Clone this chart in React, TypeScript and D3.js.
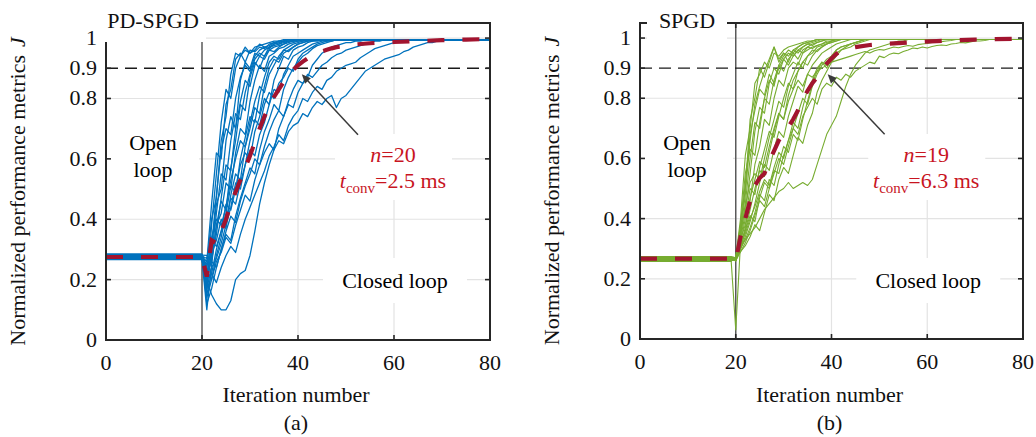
import React from "react";
import * as d3 from "d3";

// ---------------- data ----------------
const xTickValues = [0, 20, 40, 60, 80];
const yTickValues = [0, 0.2, 0.4, 0.6, 0.8, 0.9, 1];
const yTickLabels = ["0", "0.2", "0.4", "0.6", "0.8", "0.9", "1"];
const yGridValues = [0.2, 0.4, 0.6, 0.8, 1];
const xGridValues = [40, 60];
const switchIteration = 20;
const threshold = 0.9;
const lastIteration = 80;

// PD-SPGD: open-loop level of each run (iterations 0..20), closed-loop values from iteration 21
const pdOpen = [0.276, 0.272, 0.279, 0.268, 0.281, 0.274, 0.27, 0.283, 0.277, 0.273, 0.279, 0.266, 0.285, 0.275, 0.271, 0.28, 0.274, 0.278, 0.269, 0.282];
const pd01 = [0.26, 0.45, 0.62, 0.6, 0.78, 0.83, 0.93, 0.95, 0.92, 0.96, 0.955, 0.97, 0.965, 0.98, 0.985, 0.98, 0.99, 0.99, 0.993, 0.995];
const pd02 = [0.18, 0.38, 0.55, 0.72, 0.83, 0.8, 0.9, 0.94, 0.96, 0.95, 0.97, 0.975, 0.98, 0.985, 0.99, 0.99, 0.995];
const pd03 = [0.22, 0.31, 0.45, 0.5, 0.66, 0.74, 0.7, 0.86, 0.92, 0.9, 0.95, 0.94, 0.96, 0.97, 0.975, 0.98, 0.985, 0.99, 0.99, 0.995];
const pd04 = [0.1, 0.25, 0.38, 0.46, 0.43, 0.57, 0.66, 0.78, 0.76, 0.87, 0.92, 0.9, 0.94, 0.96, 0.955, 0.97, 0.98, 0.985, 0.99, 0.99, 0.995];
const pd05 = [0.28, 0.26, 0.38, 0.42, 0.52, 0.5, 0.62, 0.7, 0.68, 0.79, 0.86, 0.91, 0.89, 0.94, 0.95, 0.965, 0.97, 0.98, 0.985, 0.99, 0.99, 0.995];
const pd06 = [0.2, 0.29, 0.33, 0.4, 0.37, 0.48, 0.55, 0.53, 0.64, 0.7, 0.77, 0.75, 0.84, 0.9, 0.93, 0.92, 0.95, 0.96, 0.97, 0.98, 0.985, 0.99, 0.99, 0.995];
const pd07 = [0.15, 0.22, 0.3, 0.36, 0.45, 0.43, 0.5, 0.58, 0.62, 0.6, 0.69, 0.74, 0.8, 0.78, 0.86, 0.9, 0.94, 0.93, 0.96, 0.97, 0.975, 0.985, 0.99, 0.99, 0.995];
const pd08 = [0.24, 0.33, 0.31, 0.36, 0.4, 0.47, 0.45, 0.52, 0.58, 0.63, 0.61, 0.68, 0.72, 0.78, 0.83, 0.82, 0.88, 0.91, 0.94, 0.95, 0.96, 0.97, 0.98, 0.985, 0.99, 0.99, 0.995];
const pd09 = [0.12, 0.17, 0.24, 0.3, 0.35, 0.33, 0.41, 0.47, 0.52, 0.57, 0.55, 0.63, 0.69, 0.73, 0.78, 0.76, 0.83, 0.87, 0.9, 0.92, 0.94, 0.95, 0.965, 0.975, 0.98, 0.985, 0.99, 0.995];
const pd10 = [0.25, 0.4, 0.47, 0.66, 0.74, 0.88, 0.95, 0.94, 0.97, 0.95, 0.96, 0.98, 0.97, 0.975, 0.985, 0.99, 0.99, 0.995];
const pd11 = [0.21, 0.27, 0.35, 0.47, 0.58, 0.56, 0.7, 0.79, 0.86, 0.84, 0.91, 0.94, 0.93, 0.96, 0.97, 0.975, 0.98, 0.99, 0.99, 0.995];
const pd12 = [0.17, 0.24, 0.27, 0.32, 0.38, 0.44, 0.52, 0.5, 0.58, 0.66, 0.73, 0.71, 0.78, 0.82, 0.8, 0.85, 0.87, 0.9, 0.89, 0.93, 0.95, 0.96, 0.97, 0.98, 0.985, 0.99, 0.99, 0.995];
const pd13 = [0.23, 0.2, 0.26, 0.29, 0.34, 0.32, 0.38, 0.43, 0.48, 0.46, 0.53, 0.58, 0.62, 0.65, 0.63, 0.7, 0.74, 0.78, 0.77, 0.82, 0.85, 0.87, 0.91, 0.93, 0.95, 0.96, 0.97, 0.975, 0.98, 0.985, 0.985, 0.99, 0.99, 0.995];
const pd14 = [0.2, 0.15, 0.12, 0.1, 0.1, 0.13, 0.2, 0.22, 0.23, 0.28, 0.36, 0.45, 0.52, 0.58, 0.63, 0.66, 0.65, 0.69, 0.71, 0.72, 0.75, 0.74, 0.77, 0.79, 0.78, 0.8, 0.81, 0.77, 0.8, 0.81, 0.83, 0.85, 0.87, 0.89, 0.9, 0.91, 0.92, 0.93, 0.935, 0.94, 0.945, 0.955, 0.96, 0.97, 0.975, 0.98, 0.985, 0.985, 0.99, 0.99, 0.995];
const pd15 = [0.26, 0.22, 0.19, 0.24, 0.28, 0.31, 0.29, 0.35, 0.4, 0.44, 0.48, 0.52, 0.56, 0.61, 0.64, 0.68, 0.66, 0.71, 0.74, 0.76, 0.8, 0.79, 0.82, 0.84, 0.83, 0.86, 0.87, 0.89, 0.9, 0.91, 0.915, 0.92, 0.935, 0.945, 0.955, 0.965, 0.97, 0.975, 0.98, 0.985, 0.99, 0.99, 0.995];
const pd16 = [0.19, 0.28, 0.42, 0.55, 0.53, 0.66, 0.75, 0.73, 0.82, 0.88, 0.93, 0.95, 0.94, 0.97, 0.98, 0.985, 0.99, 0.995];
const pd17 = [0.14, 0.2, 0.28, 0.34, 0.42, 0.51, 0.49, 0.6, 0.67, 0.74, 0.72, 0.81, 0.87, 0.92, 0.94, 0.93, 0.96, 0.97, 0.98, 0.985, 0.99, 0.995];
const pd18 = [0.27, 0.34, 0.4, 0.38, 0.44, 0.53, 0.6, 0.66, 0.64, 0.72, 0.79, 0.84, 0.82, 0.88, 0.91, 0.94, 0.96, 0.955, 0.97, 0.98, 0.985, 0.99, 0.995];
const pd19 = [0.22, 0.26, 0.24, 0.3, 0.36, 0.41, 0.39, 0.46, 0.51, 0.55, 0.6, 0.58, 0.64, 0.69, 0.73, 0.76, 0.74, 0.79, 0.83, 0.86, 0.85, 0.88, 0.87, 0.89, 0.91, 0.92, 0.935, 0.945, 0.95, 0.96, 0.965, 0.97, 0.975, 0.98, 0.985, 0.99, 0.99, 0.995];
const pd20 = [0.16, 0.31, 0.48, 0.63, 0.7, 0.68, 0.8, 0.87, 0.91, 0.89, 0.94, 0.96, 0.97, 0.965, 0.98, 0.99, 0.99, 0.995];
const pdRuns = [pd01, pd02, pd03, pd04, pd05, pd06, pd07, pd08, pd09, pd10, pd11, pd12, pd13, pd14, pd15, pd16, pd17, pd18, pd19, pd20];
const pdMeanIter = [0, 20, 21, 22, 23, 24, 25, 26, 27, 28, 29, 30, 31, 32, 33, 34, 35, 36, 37, 38, 39, 40, 41, 42, 43, 44, 45, 46, 47, 48, 50, 52, 55, 60, 65, 70, 75, 80];
const pdMeanVal = [0.275, 0.275, 0.21, 0.33, 0.32, 0.36, 0.4, 0.45, 0.49, 0.53, 0.57, 0.61, 0.655, 0.7, 0.74, 0.775, 0.805, 0.83, 0.855, 0.875, 0.895, 0.91, 0.922, 0.933, 0.942, 0.95, 0.956, 0.961, 0.966, 0.97, 0.975, 0.979, 0.983, 0.987, 0.99, 0.993, 0.995, 0.997];

// SPGD: open-loop level of each run (iterations 0..19), closed-loop values from iteration 20
const spOpen = [0.268, 0.262, 0.271, 0.265, 0.27, 0.258, 0.273, 0.266, 0.261, 0.269, 0.264, 0.272, 0.259, 0.267, 0.263, 0.274, 0.26, 0.27, 0.265];
const sp01 = [0.27, 0.4, 0.61, 0.7, 0.85, 0.88, 0.92, 0.9, 0.95, 0.94, 0.96, 0.97, 0.975, 0.98, 0.985, 0.99, 0.99, 0.995];
const sp02 = [0.27, 0.35, 0.48, 0.66, 0.78, 0.84, 0.89, 0.93, 0.97, 0.92, 0.95, 0.94, 0.96, 0.97, 0.98, 0.985, 0.99, 0.995];
const sp03 = [0.26, 0.33, 0.42, 0.55, 0.69, 0.77, 0.75, 0.85, 0.9, 0.88, 0.93, 0.95, 0.94, 0.96, 0.97, 0.98, 0.985, 0.99, 0.995];
const sp04 = [0.27, 0.31, 0.37, 0.46, 0.58, 0.64, 0.73, 0.71, 0.8, 0.86, 0.84, 0.9, 0.92, 0.91, 0.95, 0.96, 0.97, 0.975, 0.98, 0.985, 0.99, 0.995];
const sp05 = [0.03, 0.32, 0.36, 0.43, 0.5, 0.56, 0.54, 0.62, 0.69, 0.75, 0.73, 0.81, 0.86, 0.89, 0.92, 0.91, 0.94, 0.96, 0.97, 0.98, 0.985, 0.99, 0.995];
const sp06 = [0.27, 0.3, 0.34, 0.39, 0.45, 0.52, 0.58, 0.56, 0.63, 0.69, 0.67, 0.74, 0.79, 0.84, 0.82, 0.88, 0.91, 0.93, 0.95, 0.96, 0.97, 0.98, 0.985, 0.99, 0.995];
const sp07 = [0.26, 0.34, 0.45, 0.6, 0.72, 0.7, 0.8, 0.78, 0.86, 0.91, 0.89, 0.93, 0.95, 0.93, 0.96, 0.97, 0.965, 0.975, 0.98, 0.99, 0.99, 0.995];
const sp08 = [0.27, 0.29, 0.32, 0.36, 0.41, 0.46, 0.44, 0.5, 0.55, 0.6, 0.58, 0.64, 0.7, 0.75, 0.8, 0.78, 0.84, 0.88, 0.91, 0.93, 0.94, 0.96, 0.97, 0.975, 0.98, 0.985, 0.99, 0.995];
const sp09 = [0.27, 0.3, 0.33, 0.35, 0.37, 0.4, 0.43, 0.45, 0.47, 0.49, 0.5, 0.52, 0.5, 0.51, 0.52, 0.51, 0.53, 0.58, 0.63, 0.68, 0.71, 0.74, 0.79, 0.84, 0.88, 0.91, 0.93, 0.95, 0.96, 0.965, 0.97, 0.975, 0.98, 0.985, 0.99, 0.99, 0.995];
const sp10 = [0.27, 0.36, 0.52, 0.68, 0.76, 0.83, 0.81, 0.88, 0.85, 0.9, 0.93, 0.91, 0.94, 0.96, 0.95, 0.97, 0.98, 0.985, 0.99, 0.995];
const sp11 = [0.26, 0.31, 0.35, 0.4, 0.44, 0.49, 0.53, 0.51, 0.57, 0.62, 0.6, 0.66, 0.7, 0.68, 0.74, 0.77, 0.8, 0.78, 0.83, 0.85, 0.84, 0.87, 0.86, 0.88, 0.87, 0.89, 0.9, 0.91, 0.92, 0.915, 0.94, 0.935, 0.945, 0.95, 0.948, 0.955, 0.96, 0.967, 0.965, 0.97, 0.967, 0.972, 0.975, 0.977, 0.975, 0.98, 0.982, 0.985, 0.984, 0.987, 0.99, 0.99, 0.992, 0.995];
const sp12 = [0.27, 0.33, 0.38, 0.47, 0.53, 0.59, 0.57, 0.64, 0.7, 0.75, 0.73, 0.79, 0.83, 0.86, 0.84, 0.88, 0.87, 0.89, 0.9, 0.91, 0.92, 0.925, 0.93, 0.935, 0.94, 0.945, 0.95, 0.955, 0.95, 0.958, 0.962, 0.96, 0.965, 0.97, 0.968, 0.972, 0.975, 0.973, 0.978, 0.98, 0.982, 0.985, 0.985, 0.988, 0.99, 0.992, 0.995];
const sp13 = [0.27, 0.38, 0.55, 0.63, 0.61, 0.72, 0.8, 0.86, 0.84, 0.91, 0.94, 0.96, 0.95, 0.97, 0.98, 0.985, 0.99, 0.995];
const sp14 = [0.27, 0.32, 0.4, 0.5, 0.48, 0.57, 0.63, 0.69, 0.67, 0.74, 0.8, 0.85, 0.83, 0.89, 0.92, 0.94, 0.96, 0.955, 0.97, 0.98, 0.985, 0.99, 0.995];
const sp15 = [0.26, 0.3, 0.36, 0.41, 0.39, 0.47, 0.52, 0.5, 0.56, 0.55, 0.61, 0.66, 0.72, 0.7, 0.77, 0.83, 0.86, 0.9, 0.92, 0.91, 0.94, 0.96, 0.97, 0.975, 0.98, 0.985, 0.99, 0.995];
const sp16 = [0.27, 0.35, 0.44, 0.52, 0.55, 0.53, 0.6, 0.67, 0.73, 0.79, 0.77, 0.84, 0.88, 0.92, 0.9, 0.94, 0.95, 0.97, 0.975, 0.98, 0.99, 0.995];
const sp17 = [0.27, 0.31, 0.33, 0.37, 0.42, 0.48, 0.46, 0.53, 0.51, 0.58, 0.64, 0.62, 0.68, 0.66, 0.73, 0.79, 0.85, 0.89, 0.92, 0.9, 0.93, 0.95, 0.96, 0.97, 0.98, 0.985, 0.99, 0.995];
const sp18 = [0.27, 0.37, 0.5, 0.73, 0.8, 0.9, 0.87, 0.92, 0.97, 0.93, 0.95, 0.92, 0.96, 0.95, 0.97, 0.98, 0.975, 0.985, 0.99, 0.995];
const sp19 = [0.26, 0.29, 0.31, 0.34, 0.38, 0.36, 0.42, 0.48, 0.46, 0.53, 0.57, 0.55, 0.61, 0.67, 0.65, 0.71, 0.75, 0.82, 0.86, 0.89, 0.92, 0.94, 0.96, 0.965, 0.97, 0.98, 0.985, 0.99, 0.995];
const spRuns = [sp01, sp02, sp03, sp04, sp05, sp06, sp07, sp08, sp09, sp10, sp11, sp12, sp13, sp14, sp15, sp16, sp17, sp18, sp19];
const spMeanIter = [0, 19, 20, 21, 22, 23, 24, 25, 26, 27, 28, 29, 30, 31, 32, 33, 34, 35, 36, 37, 38, 39, 40, 41, 42, 43, 44, 45, 48, 52, 56, 62, 70, 80];
const spMeanVal = [0.267, 0.267, 0.26, 0.34, 0.4, 0.46, 0.51, 0.535, 0.55, 0.59, 0.625, 0.66, 0.685, 0.705, 0.73, 0.76, 0.795, 0.825, 0.85, 0.87, 0.895, 0.915, 0.932, 0.947, 0.957, 0.963, 0.967, 0.97, 0.977, 0.981, 0.985, 0.99, 0.995, 0.998];

// ---------------- styles ----------------
const FONT = "'Liberation Serif','Times New Roman',Times,serif";
const FS = 22;
const AXIS = "#262626";
const GRID = "#e3e3e3";
const RED_TEXT = "#c8151f";
const MEAN = "#a2142f";

type PanelCfg = {
  id: string;
  left: number;
  right: number;
  top: number;
  bottom: number;
  runs: number[][];
  opens: number[];
  openEnd: number;
  closedStart: number;
  color: string;
  lw: number;
  meanIter: number[];
  meanVal: number[];
  title: string;
  titleHalf: number;
  nText: string;
  tText: string;
  arrowTail: [number, number];
  arrowHead: [number, number];
  caption: string;
};

function Panel({ c }: { c: PanelCfg }) {
  const x = d3.scaleLinear().domain([0, lastIteration]).range([c.left, c.right]);
  const y = d3.scaleLinear().domain([0, 1.05]).range([c.bottom, c.top]);
  const line = d3
    .line<[number, number]>()
    .x((d) => x(d[0]))
    .y((d) => y(d[1]));

  const tracePts = (vals: number[], open: number): [number, number][] => {
    const pts: [number, number][] = [
      [0, open],
      [c.openEnd, open],
    ];
    vals.forEach((v, j) => pts.push([c.closedStart + j, v]));
    pts.push([lastIteration, vals[vals.length - 1]]);
    return pts;
  };
  const meanPts: [number, number][] = c.meanIter.map((it, i) => [it, c.meanVal[i]]);

  const cx = c.left + 47;
  const tick = 5;
  const ax1 = x(c.arrowTail[0]);
  const ay1 = y(c.arrowTail[1]);
  const ax2 = x(c.arrowHead[0]);
  const ay2 = y(c.arrowHead[1]);
  const ang = Math.atan2(ay2 - ay1, ax2 - ax1);
  const ah = 9;
  const aw = 4;
  const headPts = [
    [ax2, ay2],
    [ax2 - ah * Math.cos(ang) + aw * Math.sin(ang), ay2 - ah * Math.sin(ang) - aw * Math.cos(ang)],
    [ax2 - ah * Math.cos(ang) - aw * Math.sin(ang), ay2 - ah * Math.sin(ang) + aw * Math.cos(ang)],
  ]
    .map((p) => p.join(","))
    .join(" ");

  const midX = (c.left + c.right) / 2 - 2;
  const nX = x(60) - 1;
  const clX = x(60) + 1;

  return (
    <g fontFamily={FONT} fontSize={FS}>
      <defs>
        <clipPath id={`clip-${c.id}`}>
          <rect x={c.left} y={c.top} width={c.right - c.left} height={c.bottom - c.top} />
        </clipPath>
      </defs>
      {yGridValues.map((v) => (
        <line key={`gy${v}`} x1={c.left} x2={c.right} y1={y(v)} y2={y(v)} stroke={GRID} strokeWidth={1.2} />
      ))}
      {xGridValues.map((v) => (
        <line key={`gx${v}`} x1={x(v)} x2={x(v)} y1={c.top} y2={c.bottom} stroke={GRID} strokeWidth={1.2} />
      ))}
      <line x1={x(switchIteration)} x2={x(switchIteration)} y1={c.top} y2={c.bottom} stroke="#5a5a5a" strokeWidth={1.5} />
      <line x1={c.left} x2={c.right} y1={y(threshold)} y2={y(threshold)} stroke="#1a1a1a" strokeWidth={1.4} strokeDasharray="12,7" />
      <g clipPath={`url(#clip-${c.id})`}>
        {c.runs.map((r, i) => (
          <path key={i} d={line(tracePts(r, c.opens[i])) || ""} fill="none" stroke={c.color} strokeWidth={c.lw} strokeLinejoin="round" />
        ))}
        <path d={line(meanPts) || ""} fill="none" stroke={MEAN} strokeWidth={4.2} strokeDasharray="17,18" />
      </g>
      <rect x={cx - 46} y={y(0.72)} width={92} height={y(0.5) - y(0.72)} fill="#fff" />
      <text x={cx} y={150} textAnchor="middle">Open</text>
      <text x={cx} y={177} textAnchor="middle">loop</text>

      <rect x={nX - 58} y={134} width={117} height={66} fill="#fff" />
      <text x={nX} y={162} textAnchor="middle" fill={RED_TEXT}>
        <tspan fontStyle="italic">n</tspan>
        <tspan>{c.nText}</tspan>
      </text>
      <text x={nX} y={188} textAnchor="middle" fill={RED_TEXT}>
        <tspan fontStyle="italic">t</tspan>
        <tspan fontSize={15} dy={5}>conv</tspan>
        <tspan dy={-5}>{c.tText}</tspan>
      </text>

      <rect x={clX - 72} y={258} width={144} height={45} fill="#fff" />
      <text x={clX} y={288} textAnchor="middle">Closed loop</text>

      <line x1={ax1} y1={ay1} x2={ax2 - 6 * Math.cos(ang)} y2={ay2 - 6 * Math.sin(ang)} stroke="#3a3a3a" strokeWidth={1.5} />
      <polygon points={headPts} fill="#3a3a3a" />

      <rect x={c.left} y={c.top} width={c.right - c.left} height={c.bottom - c.top} fill="none" stroke={AXIS} strokeWidth={2} />
      {xTickValues.map((v) => (
        <g key={`xt${v}`}>
          <line x1={x(v)} x2={x(v)} y1={c.bottom} y2={c.bottom - tick} stroke={AXIS} strokeWidth={1.6} />
          <line x1={x(v)} x2={x(v)} y1={c.top} y2={c.top + tick} stroke={AXIS} strokeWidth={1.6} />
          <text x={x(v)} y={c.bottom + 30} textAnchor="middle" fill="#111">
            {v}
          </text>
        </g>
      ))}
      {yTickValues.map((v) => (
        <g key={`yt${v}`}>
          <line x1={c.left} x2={c.left + tick} y1={y(v)} y2={y(v)} stroke={AXIS} strokeWidth={1.6} />
          <line x1={c.right} x2={c.right - tick} y1={y(v)} y2={y(v)} stroke={AXIS} strokeWidth={1.6} />
        </g>
      ))}
      <rect x={cx - c.titleHalf} y={4} width={c.titleHalf * 2} height={38} fill="#fff" />
      <text x={cx} y={28} textAnchor="middle" fill="#111">
        {c.title}
      </text>
      {yTickValues.map((v, i) => (
        <text key={`yl${v}`} x={c.left - 9} y={y(v) + 7} textAnchor="end" fill="#111">
          {yTickLabels[i]}
        </text>
      ))}
      <text transform={`translate(${c.left - 81},${(c.top + c.bottom) / 2 + 10}) rotate(-90)`} textAnchor="middle" fill="#111">
        Normalized performance metrics
        <tspan dx={8} fontStyle="italic">J</tspan>
      </text>
      <text x={midX} y={402} textAnchor="middle" fill="#111">
        Iteration number
      </text>
      <text x={midX} y={430} textAnchor="middle" fill="#111">
        {c.caption}
      </text>
    </g>
  );
}

const leftPanel: PanelCfg = {
  id: "pd",
  left: 106,
  right: 490,
  top: 23,
  bottom: 340,
  runs: pdRuns,
  opens: pdOpen,
  openEnd: 20,
  closedStart: 21,
  color: "#0072bd",
  lw: 1.3,
  meanIter: pdMeanIter,
  meanVal: pdMeanVal,
  title: "PD-SPGD",
  titleHalf: 53,
  nText: "=20",
  tText: "=2.5 ms",
  arrowTail: [52.5, 0.68],
  arrowHead: [40.8, 0.88],
  caption: "(a)",
};

const rightPanel: PanelCfg = {
  id: "sp",
  left: 640,
  right: 1023,
  top: 23,
  bottom: 339,
  runs: spRuns,
  opens: spOpen,
  openEnd: 19,
  closedStart: 20,
  color: "#77ac30",
  lw: 1.1,
  meanIter: spMeanIter,
  meanVal: spMeanVal,
  title: "SPGD",
  titleHalf: 40,
  nText: "=19",
  tText: "=6.3 ms",
  arrowTail: [51.1, 0.68],
  arrowHead: [39.2, 0.88],
  caption: "(b)",
};

export default function App() {
  return (
    <svg width={1036} height={437} style={{ position: "absolute", left: 0, top: 0, background: "#fff" }}>
      <rect x={0} y={0} width={1036} height={437} fill="#fff" />
      <Panel c={leftPanel} />
      <Panel c={rightPanel} />
    </svg>
  );
}
